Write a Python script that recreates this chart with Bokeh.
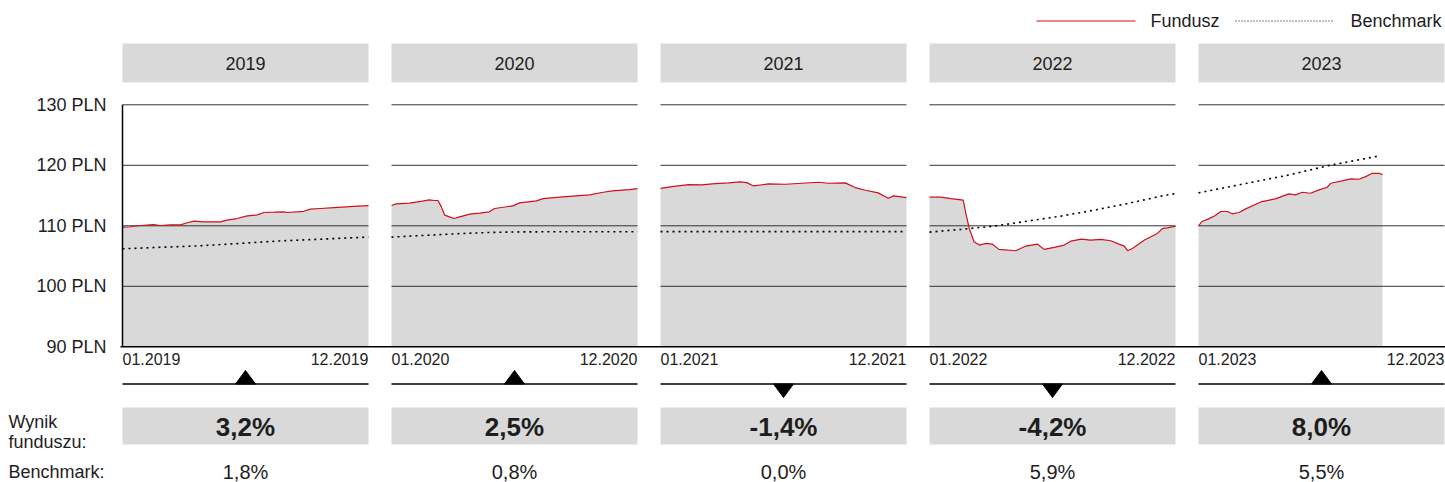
import numpy as np
from bokeh.plotting import figure
from bokeh.models import Range1d
from bokeh.core.properties import value
from bokeh.embed import file_html
from bokeh.resources import INLINE

# ---------------- data ----------------
years = ["2019", "2020", "2021", "2022", "2023"]
fund_returns = [3.2, 2.5, -1.4, -4.2, 8.0]
bench_returns = [1.8, 0.8, 0.0, 5.9, 5.5]
y_ticks = [90, 100, 110, 120, 130]

fund_days_2019 = [0, 12, 27, 46, 56, 71, 86, 96, 106, 121, 145, 155, 170, 185, 200, 210, 225, 239, 244, 269, 279, 294, 314, 343, 365]
fund_vals_2019 = [109.78, 109.84, 110.05, 110.2, 110.05, 110.16, 110.16, 110.5, 110.77, 110.66, 110.66, 110.93, 111.2, 111.65, 111.8, 112.2, 112.25, 112.3, 112.2, 112.4, 112.75, 112.86, 113.0, 113.2, 113.35]

fund_days_2020 = [0, 7, 27, 46, 56, 64, 69, 74, 79, 86, 93, 101, 116, 131, 145, 153, 180, 190, 215, 225, 254, 294, 314, 328, 353, 365]
fund_vals_2020 = [113.35, 113.63, 113.74, 114.07, 114.29, 114.18, 114.18, 113.13, 111.76, 111.48, 111.21, 111.48, 111.92, 112.09, 112.31, 112.86, 113.3, 113.79, 114.12, 114.5, 114.78, 115.1, 115.55, 115.77, 115.99, 116.15]

fund_days_2021 = [0, 17, 42, 61, 81, 101, 118, 128, 138, 160, 185, 210, 234, 249, 274, 289, 304, 323, 338, 346, 365]
fund_vals_2021 = [116.2, 116.48, 116.81, 116.76, 116.98, 117.09, 117.25, 117.14, 116.59, 116.92, 116.87, 117.03, 117.2, 117.03, 117.09, 116.32, 115.88, 115.44, 114.56, 114.95, 114.67]

fund_days_2022 = [0, 17, 32, 44, 50, 54, 59, 66, 74, 84, 93, 103, 128, 143, 160, 170, 185, 200, 210, 225, 239, 254, 269, 281, 289, 294, 301, 319, 338, 346, 353, 365]
fund_vals_2022 = [114.73, 114.73, 114.5, 114.34, 114.23, 112.03, 109.56, 107.36, 106.81, 107.09, 106.98, 106.1, 105.88, 106.65, 106.98, 106.1, 106.43, 106.81, 107.47, 107.8, 107.64, 107.75, 107.53, 106.98, 106.65, 105.88, 106.26, 107.64, 108.74, 109.56, 109.67, 109.95]

fund_days_2023 = [0, 5, 15, 25, 33, 43, 50, 60, 70, 94, 114, 134, 144, 154, 166, 179, 191, 196, 213, 226, 238, 248, 258, 268, 273]
fund_vals_2023 = [110.0, 110.71, 111.15, 111.7, 112.36, 112.36, 111.98, 112.2, 112.8, 114.01, 114.45, 115.27, 115.11, 115.55, 115.38, 115.93, 116.37, 117.03, 117.42, 117.75, 117.69, 118.13, 118.68, 118.68, 118.46]

bench_days_2019 = [0, 116, 239, 365]
bench_vals_2019 = [106.2, 106.7, 107.53, 108.13]
bench_days_2020 = [0, 46, 96, 145, 195, 365]
bench_vals_2020 = [108.13, 108.4, 108.68, 108.9, 109.0, 109.03]
bench_days_2021 = [0, 365]
bench_vals_2021 = [109.03, 109.03]
bench_days_2022 = [0, 46, 96, 145, 195, 244, 294, 343, 365]
bench_vals_2022 = [108.96, 109.4, 109.95, 110.77, 111.6, 112.58, 113.68, 114.89, 115.33]
bench_days_2023 = [0, 134, 193, 270]
bench_vals_2023 = [115.44, 118.4, 119.95, 121.59]

fund_days = [fund_days_2019, fund_days_2020, fund_days_2021, fund_days_2022, fund_days_2023]
fund_vals = [fund_vals_2019, fund_vals_2020, fund_vals_2021, fund_vals_2022, fund_vals_2023]
bench_days = [bench_days_2019, bench_days_2020, bench_days_2021, bench_days_2022, bench_days_2023]
bench_vals = [bench_vals_2019, bench_vals_2020, bench_vals_2021, bench_vals_2022, bench_vals_2023]

# ---------------- layout constants (page pixels) ----------------
W, H = 1445, 482
OX, OY = 0, 0
PANEL_L0, PANEL_W, PANEL_STEP = 122, 246, 269
Y130, PX_PER_PLN = 104.3, 6.05
DAYS = 365
PX_PER_DAY = PANEL_W / DAYS
STEP_DAYS = PANEL_STEP / PX_PER_DAY


def X(page_x):
    return (page_x - PANEL_L0) / PX_PER_DAY


def Y(page_y):
    return 130 - (page_y - Y130) / PX_PER_PLN


FONT = value("Liberation Sans")
TXT = "#1e1e1e"
GREY = "#d9d9d9"
RED = "#d0101b"

p = figure(width=W, height=H, output_backend="svg", toolbar_location=None,
           x_range=Range1d(X(OX), X(OX + W)), y_range=Range1d(Y(OY + H), Y(OY)),
           min_border=0, outline_line_color=None, background_fill_color="white",
           border_fill_color="white")
p.axis.visible = False
p.grid.visible = False

ymin, ymax = min(y_ticks), max(y_ticks)

for i, yr in enumerate(years):
    x0 = i * STEP_DAYS
    x1 = x0 + DAYS
    xc = x0 + DAYS / 2
    fx = np.array(fund_days[i]) + x0
    fv = np.array(fund_vals[i])
    # area
    p.varea(x=fx, y1=ymin, y2=fv, fill_color=GREY)
    # grid lines
    gl = [t for t in y_ticks if t > ymin]
    p.segment(x0=[x0] * len(gl), x1=[x1] * len(gl), y0=gl, y1=gl,
              line_color="#333333", line_width=1)
    # benchmark line
    bx = np.array(bench_days[i]) + x0
    p.line(bx, bench_vals[i], line_color="black", line_width=1.6, line_dash="2 4")
    # fund line
    p.line(fx, fv, line_color=RED, line_width=1.2)
    # header
    p.quad(left=x0, right=x1, top=Y(43), bottom=Y(82), fill_color=GREY, line_color=None)
    p.text(x=[xc], y=[Y(62.5)], text=[yr], text_font=FONT, text_font_size="18px",
           text_align="center", text_baseline="middle", text_color=TXT)
    # tick labels
    p.text(x=[x0], y=[Y(358.5)], text=["01." + yr], text_font=FONT, text_font_size="16px",
           text_align="left", text_baseline="middle", text_color=TXT)
    p.text(x=[x1], y=[Y(358.5)], text=["12." + yr], text_font=FONT, text_font_size="16px",
           text_align="right", text_baseline="middle", text_color=TXT)
    # indicator line + triangle
    base = Y(383.5)
    p.segment(x0=[x0], x1=[x1], y0=[base], y1=[base], line_color="black", line_width=1.5)
    half = 10 / PX_PER_DAY
    h = 13.5 / PX_PER_PLN
    tip = base + h if fund_returns[i] >= 0 else base - h
    p.patch([xc - half, xc + half, xc], [base, base, tip], fill_color="black", line_color="black")
    # result box
    p.quad(left=x0, right=x1, top=Y(407), bottom=Y(444), fill_color=GREY, line_color=None)
    p.text(x=[xc], y=[Y(426)], text=[f"{fund_returns[i]:.1f}%".replace(".", ",")],
           text_font=FONT, text_font_size="26px", text_font_style="bold",
           text_align="center", text_baseline="middle", text_color=TXT)
    p.text(x=[xc], y=[Y(471.5)], text=[f"{bench_returns[i]:.1f}%".replace(".", ",")],
           text_font=FONT, text_font_size="20px",
           text_align="center", text_baseline="middle", text_color=TXT)

# baseline and left axis
p.segment(x0=[X(120)], x1=[X(1445)], y0=[ymin], y1=[ymin], line_color="black", line_width=1.5)
p.segment(x0=[X(PANEL_L0)], x1=[X(PANEL_L0)], y0=[ymin], y1=[ymax], line_color="black", line_width=1.5)

# y tick labels
p.text(x=[X(106)] * len(y_ticks), y=y_ticks, text=[f"{t} PLN" for t in y_ticks],
       text_font=FONT, text_font_size="18px", text_align="right", text_baseline="middle",
       text_color=TXT)

# left labels
p.text(x=[X(8)] * 3, y=[Y(421.5), Y(441.5), Y(471)], text=["Wynik", "funduszu:", "Benchmark:"],
       text_font=FONT, text_font_size="18px", text_align="left", text_baseline="middle",
       text_color=TXT)

# legend
ly = Y(20.5)
p.segment(x0=[X(1036)], x1=[X(1135)], y0=[ly], y1=[ly], line_color=RED, line_width=1.2)
p.text(x=[X(1150)], y=[ly], text=["Fundusz"], text_font=FONT, text_font_size="18px",
       text_align="left", text_baseline="middle", text_color=TXT)
p.segment(x0=[X(1235)], x1=[X(1333)], y0=[ly], y1=[ly], line_color="black", line_width=1,
          line_dash="1 2")
p.text(x=[X(1350)], y=[ly], text=["Benchmark"], text_font=FONT, text_font_size="18px",
       text_align="left", text_baseline="middle", text_color=TXT)

open("out.html", "w").write(file_html(p, INLINE))
